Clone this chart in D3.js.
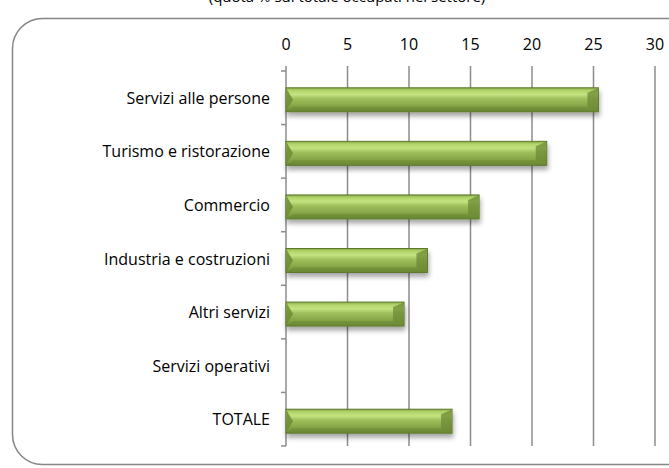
<!DOCTYPE html>
<html><head><meta charset="utf-8">
<script src="https://cdn.jsdelivr.net/npm/d3@7"></script>
<style>html,body{margin:0;padding:0;background:#fff;overflow:hidden}</style>
</head><body>
<svg id="c" width="669" height="468"></svg>
<script>
const categories = ["Servizi alle persone","Turismo e ristorazione","Commercio","Industria e costruzioni","Altri servizi","Servizi operativi","TOTALE"];
const values = [25.4, 21.2, 15.7, 11.5, 9.6, 0, 13.5];
const ticks = [0,5,10,15,20,25,30];
const subtitle = "(quota % sul totale occupati nel settore)";

const svg = d3.select("#c");
const font = "'Open Sans', sans-serif";
const defs = svg.append("defs");
const g1 = defs.append("linearGradient").attr("id","bg").attr("x1",0).attr("y1",0).attr("x2",0).attr("y2",1);
[[0,"#8aab47"],[0.12,"#b3d56c"],[0.28,"#c4e281"],[0.45,"#9fc05c"],[0.75,"#87a548"],[1,"#6e8c36"]].forEach(s=>g1.append("stop").attr("offset",s[0]).attr("stop-color",s[1]));
const f = defs.append("filter").attr("id","sh").attr("x","-10%").attr("y","-30%").attr("width","130%").attr("height","180%");
f.append("feGaussianBlur").attr("in","SourceAlpha").attr("stdDeviation",2.5);
f.append("feOffset").attr("dx",1).attr("dy",4).attr("result","b");
f.append("feComponentTransfer").append("feFuncA").attr("type","linear").attr("slope",0.35);
const m = f.append("feMerge"); m.append("feMergeNode"); m.append("feMergeNode").attr("in","SourceGraphic");

// subtitle (clipped at top as in reference)
svg.append("text").attr("x",347).attr("y",2).attr("text-anchor","middle")
  .attr("font-family",font).attr("font-size",15).attr("fill","#000").text(subtitle);

// frame
svg.append("rect").attr("x",12.5).attr("y",18.5).attr("width",690).attr("height",446)
  .attr("rx",30).attr("ry",30).attr("fill","none").attr("stroke","#868686").attr("stroke-width",1.5);

const x = d3.scaleLinear().domain([0,30]).range([286,655]);
const y = d3.scaleBand().domain(categories).range([71,446]);

// gridlines
svg.append("g").selectAll("line").data(ticks.slice(1)).join("line")
  .attr("x1",d=>x(d)).attr("x2",d=>x(d)).attr("y1",66).attr("y2",446)
  .attr("stroke","#8c8c8c").attr("stroke-width",1.5);

// top tick labels
svg.append("g").selectAll("text").data(ticks).join("text")
  .attr("x",d=>x(d)).attr("y",50).attr("text-anchor","middle")
  .attr("font-family",font).attr("font-size",16).attr("fill","#000").text(d=>d);

// y axis
const ya = svg.append("g");
ya.append("line").attr("x1",286).attr("x2",286).attr("y1",66).attr("y2",446).attr("stroke","#8c8c8c").attr("stroke-width",1.5);
ya.selectAll("line.t").data(d3.range(categories.length+1)).join("line").attr("class","t")
  .attr("x1",281).attr("x2",286).attr("y1",i=>71+i*y.step()).attr("y2",i=>71+i*y.step())
  .attr("stroke","#8c8c8c").attr("stroke-width",1.5);
ya.selectAll("text").data(categories).join("text")
  .attr("x",270).attr("y",d=>y(d)+y.bandwidth()/2+6).attr("text-anchor","end")
  .attr("font-family",font).attr("font-size",16).attr("fill","#000").text(d=>d);

// bars
const bh = 24;
const bars = svg.append("g").selectAll("g").data(categories.map((c,i)=>({c,v:values[i]})).filter(d=>d.v>0)).join("g");
bars.each(function(d){
  const gg = d3.select(this);
  const x0 = x(0), x1 = x(d.v), y0 = y(d.c)+y.bandwidth()/2 - bh/2 + 2, y1 = y0+bh;
  gg.append("rect").attr("x",x0).attr("y",y0).attr("width",x1-x0).attr("height",bh)
    .attr("fill","url(#bg)").attr("stroke","#5d7a2c").attr("stroke-width",1).attr("filter","url(#sh)");
  gg.append("path").attr("d",`M${x0+0.5},${y0+1}L${x0+7},${y0+bh/2}L${x0+0.5},${y1-1}Z`).attr("fill","#6f8f36").attr("opacity",0.9);
  gg.append("path").attr("d",`M${x1-11},${y0+5}L${x1-0.5},${y0+0.5}L${x1-0.5},${y1-0.5}L${x1-11},${y1-5}Z`).attr("fill","#6c8a34").attr("opacity",0.75);
  gg.append("path").attr("d",`M${x0+7},${y1-5}L${x1-11},${y1-5}L${x1-0.5},${y1-0.5}L${x0+0.5},${y1-0.5}Z`).attr("fill","#5f7d2e").attr("opacity",0.35);
});
</script>
</body></html>
